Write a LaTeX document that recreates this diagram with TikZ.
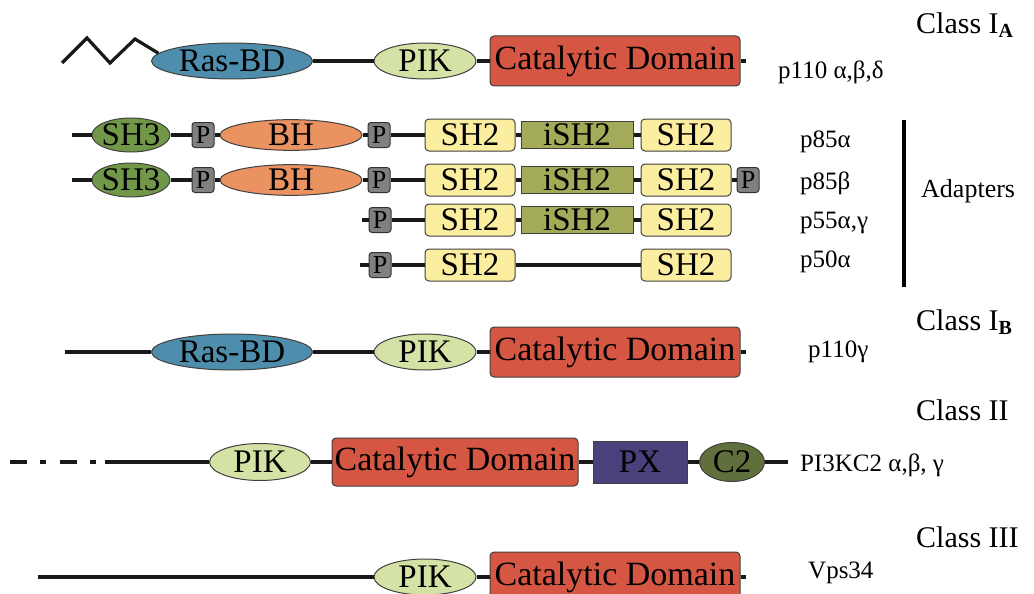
\documentclass[tikz,border=0pt]{standalone}
\usepackage{fontspec}
\setmainfont{LiberationSerif}[Extension=.ttf, UprightFont=*-Regular, BoldFont=*-Bold, ItalicFont=*-Italic, BoldItalicFont=*-BoldItalic]
\usetikzlibrary{shapes.geometric}

\definecolor{rasblue}{RGB}{78,142,172}
\definecolor{pikgreen}{RGB}{213,226,166}
\definecolor{catred}{RGB}{214,86,68}
\definecolor{shgreen}{RGB}{112,152,72}
\definecolor{bhorange}{RGB}{234,146,96}
\definecolor{pgray}{RGB}{128,128,128}
\definecolor{shyellow}{RGB}{252,238,160}
\definecolor{isholive}{RGB}{163,170,88}
\definecolor{pxpurple}{RGB}{76,64,124}
\definecolor{c2olive}{RGB}{96,112,60}

% zero-width label so that an oval keeps the size given to it
\newcommand\zw[1]{\makebox[0pt]{#1}}

\tikzset{
  link/.style={line width=3.2pt, draw=black!90},
  dom/.style={draw=black!75, line width=1pt, inner sep=0pt, font=\fontsize{33}{36}\selectfont},
  ovl/.style={dom, ellipse},
  boxr/.style={dom, rectangle, rounded corners=4pt},
  catbox/.style={boxr, fill=catred, minimum width=250pt, minimum height=50pt, font=\fontsize{34}{36}\selectfont},
  rasbd/.style={ovl, fill=rasblue, minimum width=161pt, minimum height=36pt},
  pik/.style={ovl, fill=pikgreen, minimum width=102pt, minimum height=36pt},
  sh3/.style={ovl, fill=shgreen, minimum width=78pt, minimum height=34pt},
  bh/.style={ovl, fill=bhorange, minimum width=142pt, minimum height=29pt},
  pbox/.style={dom, rectangle, rounded corners=3pt, fill=pgray, draw=black!80, minimum width=22pt, minimum height=25pt, font=\fontsize{26}{28}\selectfont},
  shtwo/.style={boxr, fill=shyellow, minimum width=90pt, minimum height=32pt},
  ish/.style={dom, rectangle, fill=isholive, minimum width=112pt, minimum height=27pt},
  pxbox/.style={dom, rectangle, fill=pxpurple, minimum width=94pt, minimum height=42pt},
  ctwo/.style={ovl, fill=c2olive, minimum width=65pt, minimum height=39pt},
  lab/.style={anchor=west, inner sep=0pt, font=\fontsize{25}{27}\selectfont},
  cls/.style={anchor=west, inner sep=0pt, font=\fontsize{30}{32}\selectfont},
}

\begin{document}
\begin{tikzpicture}[x=1pt, y=-1pt]
\useasboundingbox (0,0) rectangle (1034,594);

% ---------- Class IA : p110 ----------
\coordinate (zA) at (62,63);
\node[rasbd] (rasA) at (232,61) {\zw{Ras-BD}};
\node[pik] (pikA) at (425,61) {\zw{PIK}};
\node[catbox] (catA) at (615,61) {Catalytic Domain};
\coordinate (tA) at (746,61);
\draw[link, line join=miter] (zA) -- (87,38) -- (110,63) -- (135,39) -- (rasA.174);
\draw[link] (rasA.east) -- (pikA.west);
\draw[link] (pikA.east) -- (catA.west);
\draw[link] (catA.east) -- (tA);

% ---------- adapters ----------
% p85 alpha
\coordinate (s1) at (72,135);
\node[sh3] (sh3a) at (131,135) {\zw{SH3}};
\node[pbox] (pa1) at (203,135) {P};
\node[bh] (bha) at (291,135) {\zw{BH}};
\node[pbox] (pa2) at (379,135) {P};
\node[shtwo] (sha1) at (470,135) {SH2};
\node[ish] (isha) at (577,135) {iSH2};
\node[shtwo] (sha2) at (686,135) {SH2};
\draw[link] (s1) -- (sh3a.west);
\draw[link] (sh3a.east) -- (pa1.west);
\draw[link] (pa1.east) -- (bha.west);
\draw[link] (bha.east) -- (pa2.west);
\draw[link] (pa2.east) -- (sha1.west);
\draw[link] (sha1.east) -- (isha.west);
\draw[link] (isha.east) -- (sha2.west);

% p85 beta
\coordinate (s2) at (72,180);
\node[sh3] (sh3b) at (131,180) {\zw{SH3}};
\node[pbox] (pb1) at (203,180) {P};
\node[bh] (bhb) at (291,180) {\zw{BH}};
\node[pbox] (pb2) at (379,180) {P};
\node[shtwo] (shb1) at (470,180) {SH2};
\node[ish] (ishb) at (577,180) {iSH2};
\node[shtwo] (shb2) at (686,180) {SH2};
\node[pbox] (pb3) at (748,180) {P};
\draw[link] (s2) -- (sh3b.west);
\draw[link] (sh3b.east) -- (pb1.west);
\draw[link] (pb1.east) -- (bhb.west);
\draw[link] (bhb.east) -- (pb2.west);
\draw[link] (pb2.east) -- (shb1.west);
\draw[link] (shb1.east) -- (ishb.west);
\draw[link] (ishb.east) -- (shb2.west);
\draw[link] (shb2.east) -- (pb3.west);

% p55 alpha, gamma
\coordinate (s3) at (362,220);
\node[pbox] (pc1) at (380,220) {P};
\node[shtwo] (shc1) at (470,220) {SH2};
\node[ish] (ishc) at (577,220) {iSH2};
\node[shtwo] (shc2) at (686,220) {SH2};
\draw[link] (s3) -- (pc1.west);
\draw[link] (pc1.east) -- (shc1.west);
\draw[link] (shc1.east) -- (ishc.west);
\draw[link] (ishc.east) -- (shc2.west);

% p50 alpha
\coordinate (s4) at (360,265);
\node[pbox] (pd1) at (380,265) {P};
\node[shtwo] (shd1) at (470,265) {SH2};
\node[shtwo] (shd2) at (686,265) {SH2};
\draw[link] (s4) -- (pd1.west);
\draw[link] (pd1.east) -- (shd1.west);
\draw[link] (shd1.east) -- (shd2.west);

% bracket and names
\coordinate (adtop) at (904,120);
\coordinate (adbot) at (904,287);
\draw[line width=3.5pt] (adtop) -- (adbot);
\node[lab] (nA) at (778,72) {p110 α,β,δ};
\node[lab] (n85a) at (800,142) {p85α};
\node[lab] (n85b) at (800,183) {p85β};
\node[lab] (n55) at (800,223) {p55α,γ};
\node[lab] (n50) at (800,262) {p50α};
\node[lab, font=\fontsize{26}{28}\selectfont] (adap) at (921,191) {Adapters};

% ---------- Class IB : p110 gamma ----------
\coordinate (sB) at (65,352);
\node[rasbd] (rasB) at (232,352) {\zw{Ras-BD}};
\node[pik] (pikB) at (425,352) {\zw{PIK}};
\node[catbox] (catB) at (615,352) {Catalytic Domain};
\coordinate (tB) at (746,352);
\draw[link] (sB) -- (rasB.west);
\draw[link] (rasB.east) -- (pikB.west);
\draw[link] (pikB.east) -- (catB.west);
\draw[link] (catB.east) -- (tB);
\node[lab] (nB) at (808,352) {p110γ};

% ---------- Class II ----------
\coordinate (d0) at (10,462);
\coordinate (d1) at (105,462);
\node[pik, minimum width=101pt, minimum height=37pt] (pikC) at (260,462) {\zw{PIK}};
\node[catbox, minimum width=246pt, minimum height=48pt] (catC) at (455,462) {Catalytic Domain};
\node[pxbox] (pxC) at (640,462) {PX};
\node[ctwo] (c2C) at (732,462) {\zw{C2}};
\coordinate (tC) at (788,462);
\draw[link, dash pattern=on 17pt off 13pt on 6pt off 14pt] (d0) -- (d1);
\draw[link] (d1) -- (pikC.west);
\draw[link] (pikC.east) -- (catC.west);
\draw[link] (catC.east) -- (pxC.west);
\draw[link] (pxC.east) -- (c2C.west);
\draw[link] (c2C.east) -- (tC);
\node[lab] (nC) at (800,465) {PI3KC2 α,β, γ};

% ---------- Class III ----------
\coordinate (sD) at (38,577);
\node[pik] (pikD) at (425,577) {\zw{PIK}};
\node[catbox] (catD) at (615,577) {Catalytic Domain};
\coordinate (tD) at (746,577);
\draw[link] (sD) -- (pikD.west);
\draw[link] (pikD.east) -- (catD.west);
\draw[link] (catD.east) -- (tD);
\node[lab] (nD) at (808,573) {Vps34};

% ---------- class headings ----------
\node[cls] (hA) at (916,25) {Class I\textsubscript{\fontsize{20}{22}\selectfont\bfseries A}};
\node[cls] (hB) at (916,322) {Class I\textsubscript{\fontsize{20}{22}\selectfont\bfseries B}};
\node[cls] (hC) at (916,410) {Class II};
\node[cls] (hD) at (916,537) {Class III};
\end{tikzpicture}
\end{document}
